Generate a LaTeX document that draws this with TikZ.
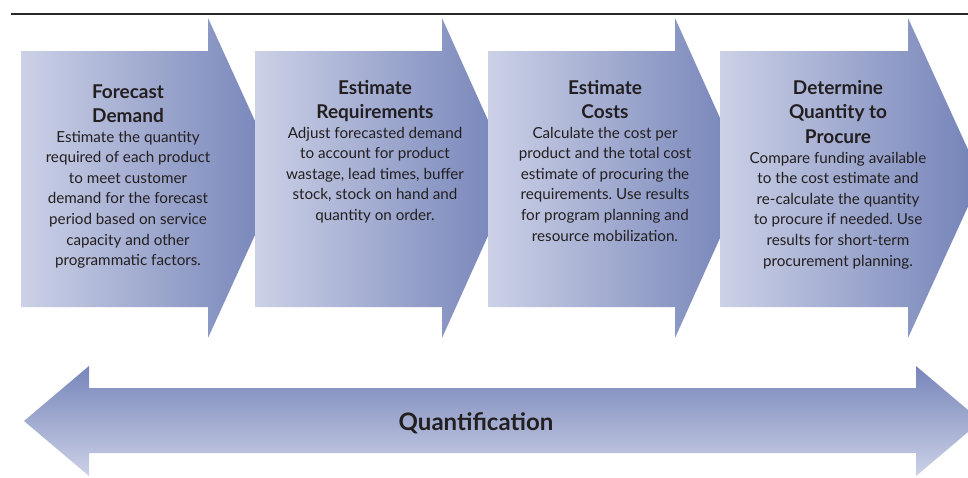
\documentclass[tikz,border=0pt]{standalone}
\usepackage{fontspec}
\setmainfont{Lato}
\frenchspacing
\definecolor{lightblue}{RGB}{204,209,231}
\definecolor{darkblue}{RGB}{114,129,183}
\definecolor{txt}{RGB}{35,31,32}
\definecolor{rulecol}{RGB}{40,38,40}
\setlength{\tabcolsep}{0pt}
\tikzset{
  ttl/.style={inner sep=0pt, anchor=base, text=txt, font=\fontsize{19}{24.5}\selectfont\bfseries},
  bodytext/.style={inner sep=0pt, anchor=base, text=txt, font=\fontsize{15.2}{20.6}\selectfont},
  stagearrow/.style={left color=lightblue, right color=darkblue},
  spanarrow/.style={top color=darkblue!95!lightblue, bottom color=lightblue}
}
\newcommand{\stagepath}[3]{(#1,51) -- (#2,51) -- (#2,18) -- (#3,178) -- (#2,338) -- (#2,307) -- (#1,307) -- cycle}
\begin{document}
\begin{tikzpicture}[x=1pt,y=-1pt]
\useasboundingbox (0,0) rectangle (968,477);
\clip (0,0) rectangle (968,477);
\fill[white] (0,0) rectangle (968,477);
\draw[line width=2pt, rulecol] (11,13.5) -- (968,13.5);

\shade[stagearrow] \stagepath{21}{208}{281};
\shade[stagearrow] \stagepath{255}{442}{514};
\shade[stagearrow] \stagepath{488}{675}{747};
\shade[stagearrow] \stagepath{720}{908}{981};

\shade[spanarrow] (24,421) -- (89,366) -- (89,388) -- (916,388) -- (916,366) -- (981,421) -- (916,476) -- (916,453) -- (89,453) -- (89,476) -- cycle;

\node[ttl] (t1) at (128,98) {\begin{tabular}[t]{c}Forecast\\Demand\end{tabular}};
\node[bodytext] (b1) at (128,142) {\begin{tabular}[t]{c}Estimate the quantity\\required of each product\\to meet customer\\demand for the forecast\\period based on service\\capacity and other\\programmatic factors.\end{tabular}};

\node[ttl] (t2) at (375,94) {\begin{tabular}[t]{c}Estimate\\Requirements\end{tabular}};
\node[bodytext] (b2) at (375,138) {\begin{tabular}[t]{c}Adjust forecasted demand\\to account for product\\wastage, lead times, buffer\\stock, stock on hand and\\quantity on order.\end{tabular}};

\node[ttl] (t3) at (605,94) {\begin{tabular}[t]{c}Estimate\\Costs\end{tabular}};
\node[bodytext] (b3) at (605,138) {\begin{tabular}[t]{c}Calculate the cost per\\product and the total cost\\estimate of procuring the\\requirements. Use results\\for program planning and\\resource mobilization.\end{tabular}};

\node[ttl] (t4) at (838,94) {\begin{tabular}[t]{c}Determine\\Quantity to\\Procure\end{tabular}};
\node[bodytext] (b4) at (838,163) {\begin{tabular}[t]{c}Compare funding available\\to the cost estimate and\\re-calculate the quantity\\to procure if needed. Use\\results for short-term\\procurement planning.\end{tabular}};

\node[inner sep=0pt, anchor=base, text=txt, font=\fontsize{24}{28}\selectfont\bfseries] (q) at (476,430) {Quantification};
\end{tikzpicture}
\end{document}
